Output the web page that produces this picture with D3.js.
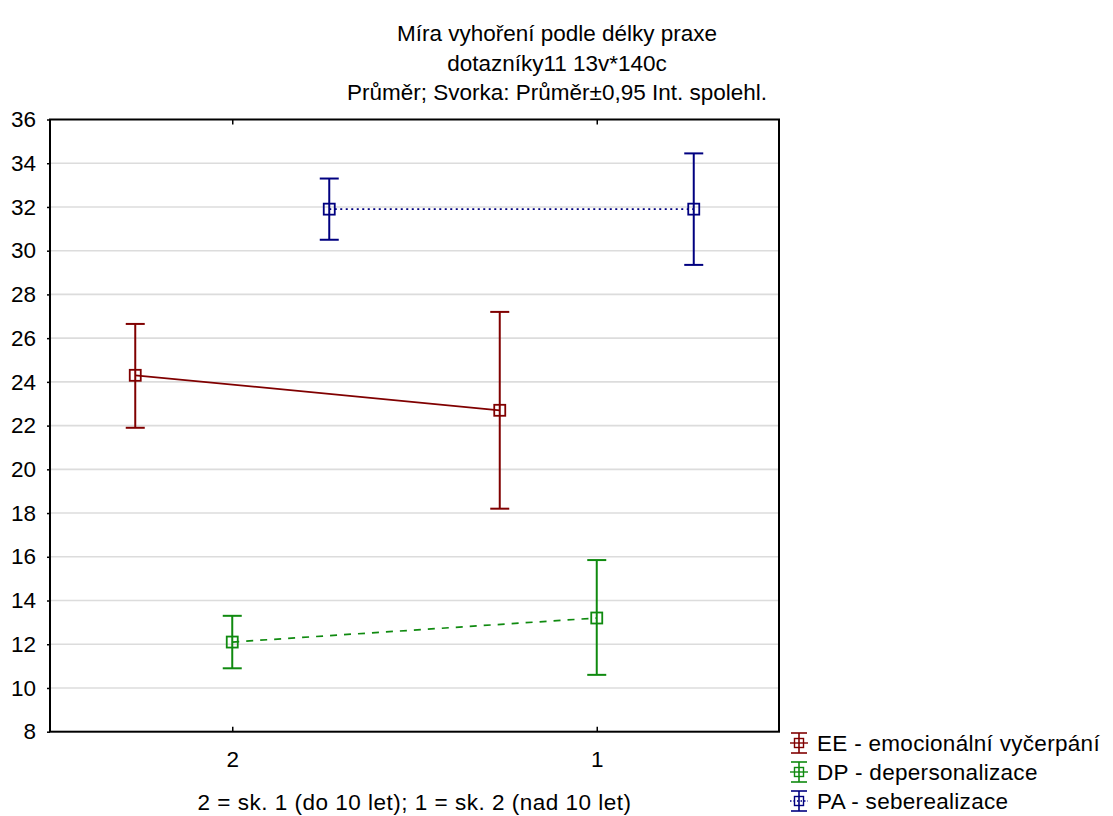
<!DOCTYPE html>
<html><head><meta charset="utf-8">
<script src="https://cdn.jsdelivr.net/npm/d3@7"></script>
<style>body{margin:0;background:#fff}svg{display:block;font-family:"Liberation Sans",Arial,sans-serif}</style>
</head><body><svg id="c" width="1113" height="816"></svg>
<script>
const titleLines = ["Míra vyhoření podle délky praxe","dotazníky11 13v*140c","Průměr; Svorka: Průměr±0,95 Int. spolehl."];
const xTitle = "2 = sk. 1 (do 10 let); 1 = sk. 2 (nad 10 let)";
const categories = ["2","1"];
const seriesNames = ["EE - emocionální vyčerpání","DP - depersonalizace","PA - seberealizace"];
const seriesKeys = ["EE","DP","PA"];
const eeMean = [24.3, 22.7], eeLow = [21.9, 18.2], eeHigh = [26.65, 27.2];
const dpMean = [12.1, 13.2], dpLow = [10.9, 10.6], dpHigh = [13.3, 15.85];
const paMean = [31.9, 31.9], paLow = [30.5, 29.35], paHigh = [33.3, 34.45];
const yTicks = [8,10,12,14,16,18,20,22,24,26,28,30,32,34,36];

const colors = ["#800000","#0f8a0f","#000080"];
const dashes = [null,"7,7","2,3.5"];
const series = [
  {key:"EE", name:seriesNames[0], mean:eeMean, low:eeLow, high:eeHigh},
  {key:"DP", name:seriesNames[1], mean:dpMean, low:dpLow, high:dpHigh},
  {key:"PA", name:seriesNames[2], mean:paMean, low:paLow, high:paHigh}
];

const svg = d3.select("#c");
const L=50, R=779, T=119.5, B=731.7;
const x = d3.scalePoint().domain(categories).range([L,R]).padding(0.5);
const off = d3.scalePoint().domain(seriesKeys).range([-97,97]);
const y = d3.scaleLinear().domain([8,36]).range([B,T]);
const fs = 22.5;

// titles
svg.selectAll("text.title").data(titleLines).join("text")
  .attr("x",557).attr("y",(d,i)=>41+i*29.5).attr("text-anchor","middle")
  .attr("font-size",fs).attr("fill","#000").text(d=>d);

// grid
svg.append("g").selectAll("line").data(yTicks.filter(t=>t>8&&t<36)).join("line")
  .attr("x1",L).attr("x2",R).attr("y1",d=>y(d)).attr("y2",d=>y(d))
  .attr("stroke","#dcdcdc").attr("stroke-width",1.6);

// y axis
const ya = svg.append("g").attr("transform",`translate(${L},0)`)
  .call(d3.axisLeft(y).tickValues(yTicks).tickSize(3).tickPadding(11).tickFormat(d3.format("d")));
ya.select(".domain").remove();
ya.selectAll("line").attr("stroke","#000").attr("stroke-width",1.5);
ya.selectAll("text").attr("font-size",fs).attr("font-family","Liberation Sans, Arial").attr("fill","#000");

// x axis bottom (inward ticks)
const xa = svg.append("g").attr("transform",`translate(0,${B})`)
  .call(d3.axisBottom(x).tickSizeInner(-5).tickSizeOuter(0).tickPadding(19));
xa.select(".domain").remove();
xa.selectAll("line").attr("stroke","#000").attr("stroke-width",1.5);
xa.selectAll("text").attr("font-size",fs).attr("font-family","Liberation Sans, Arial").attr("fill","#000");
// top ticks
const xt = svg.append("g").attr("transform",`translate(0,${T})`)
  .call(d3.axisTop(x).tickSizeInner(-5).tickSizeOuter(0).tickFormat(""));
xt.select(".domain").remove();
xt.selectAll("line").attr("stroke","#000").attr("stroke-width",1.5);

// frame
svg.append("rect").attr("x",L).attr("y",T).attr("width",R-L).attr("height",B-T)
  .attr("fill","none").attr("stroke","#000").attr("stroke-width",2);

// x title
svg.append("text").attr("x",(L+R)/2).attr("y",810).attr("text-anchor","middle")
  .attr("font-size",fs).attr("letter-spacing",0.5).attr("fill","#000").text(xTitle);

// series
const capW = 19, sq = 11;
series.forEach((s,si)=>{
  const g = svg.append("g");
  const px = i => x(categories[i]) + off(s.key);
  g.append("path").datum(categories.map((c,i)=>i))
    .attr("d", d3.line().x(i=>px(i)).y(i=>y(s.mean[i])))
    .attr("fill","none").attr("stroke",colors[si]).attr("stroke-width",1.7)
    .attr("stroke-dasharray",dashes[si]);
  categories.forEach((c,i)=>{
    const cx = px(i);
    g.append("line").attr("x1",cx).attr("x2",cx).attr("y1",y(s.low[i])).attr("y2",y(s.high[i]))
      .attr("stroke",colors[si]).attr("stroke-width",2);
    [s.low[i], s.high[i]].forEach(v=>{
      g.append("line").attr("x1",cx-capW/2).attr("x2",cx+capW/2).attr("y1",y(v)).attr("y2",y(v))
        .attr("stroke",colors[si]).attr("stroke-width",2);
    });
    g.append("rect").attr("x",cx-sq/2).attr("y",y(s.mean[i])-sq/2).attr("width",sq).attr("height",sq)
      .attr("fill","none").attr("stroke",colors[si]).attr("stroke-width",1.8);
  });
});

// legend
const lg = svg.append("g");
series.forEach((s,si)=>{
  const cy = 743 + si*29, cx = 799;
  const g = lg.append("g");
  g.append("line").attr("x1",cx).attr("x2",cx).attr("y1",cy-10).attr("y2",cy+10).attr("stroke",colors[si]).attr("stroke-width",1.6);
  [cy-10, cy+10].forEach(v=>g.append("line").attr("x1",cx-8).attr("x2",cx+8).attr("y1",v).attr("y2",v).attr("stroke",colors[si]).attr("stroke-width",1.6));
  g.append("line").attr("x1",cx-9).attr("x2",cx+9).attr("y1",cy).attr("y2",cy).attr("stroke",colors[si]).attr("stroke-width",1.4).attr("stroke-dasharray",si===2?"1.5,2":null);
  g.append("rect").attr("x",cx-4.5).attr("y",cy-4.5).attr("width",9).attr("height",9).attr("fill","none").attr("stroke",colors[si]).attr("stroke-width",1.4);
  g.append("text").attr("x",817).attr("y",cy+8).attr("font-size",fs).attr("letter-spacing",0.3).attr("fill","#000").text(s.name);
});
</script></body></html>
